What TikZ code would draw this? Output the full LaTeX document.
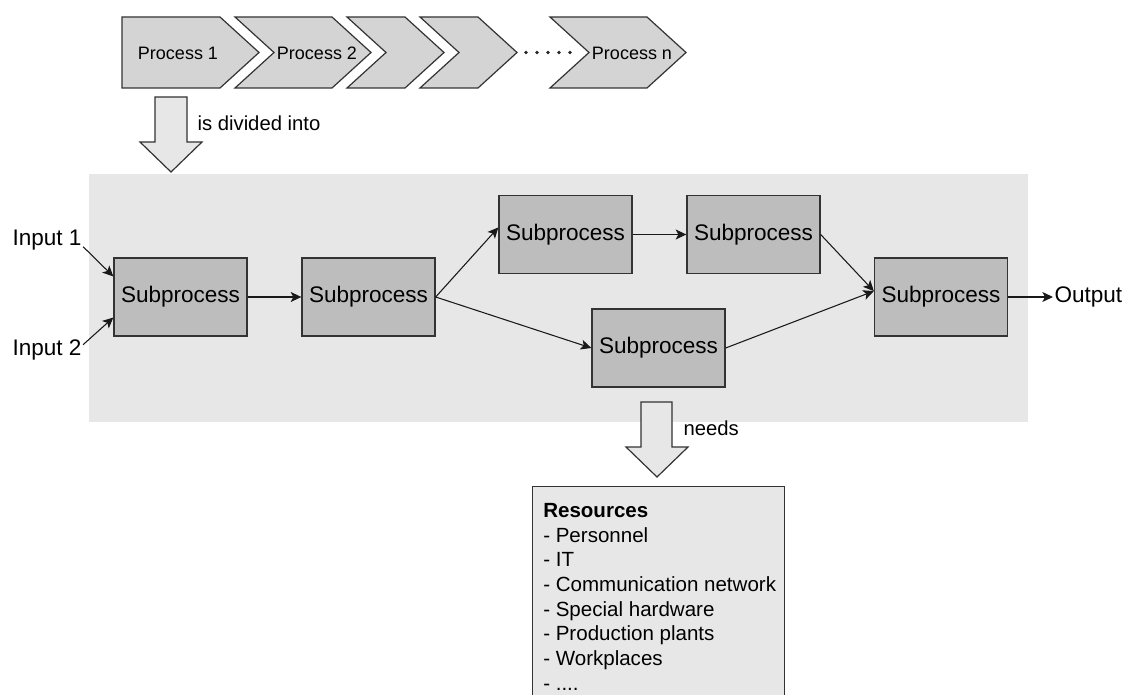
\documentclass[tikz,border=0pt]{standalone}
\usepackage{fontspec}
\setmainfont{Liberation Sans}
\usetikzlibrary{arrows.meta}

\definecolor{areagray}{gray}{0.905}
\definecolor{subgray}{gray}{0.74}
\definecolor{procgray}{gray}{0.83}
\definecolor{edgegray}{gray}{0.2}

\tikzset{
  subproc/.style={draw=edgegray, fill=subgray, line width=1pt, minimum width=99.75pt,
    minimum height=58.5pt, inner sep=0pt, font=\fontsize{16.9}{20}\selectfont},
  iotext/.style={inner sep=1pt, font=\fontsize{16.9}{20}\selectfont},
  proctext/.style={inner sep=0pt, font=\fontsize{13.5}{16}\selectfont},
  notetext/.style={inner sep=1pt, font=\fontsize{15.2}{18}\selectfont},
  flow/.style={draw=black!90, line width=0.8pt, -{Stealth[length=8pt,width=7.5pt,inset=2pt]}},
  hollowarrow/.style={draw=edgegray, fill=areagray, line width=0.9pt, line join=miter},
  chevron/.style={draw=edgegray, fill=procgray, line width=0.9pt},
  resbox/.style={draw=edgegray, fill=areagray, line width=1pt, minimum width=189pt,
    minimum height=180pt, inner sep=0pt},
  restext/.style={inner sep=0pt, align=left, font=\fontsize{15.4}{18.5}\selectfont}
}

\begin{document}
\begin{tikzpicture}[x=0.75pt,y=-0.75pt]
  \useasboundingbox (0,0) rectangle (1127,695);
  \clip (0,0) rectangle (1127,695);
  \fill[white] (0,0) rectangle (1127,695);

  % process chain
  \draw[chevron] (122,17) -- (220,17) -- (259,52.5) -- (220,88) -- (122,88) -- cycle;
  \foreach \l/\r in {235/332, 347/405, 420/478, 550/647}
    \draw[chevron] (\l,17) -- (\r,17) -- (\r+39,52.5) -- (\r,88) -- (\l,88) -- (\l+39,52.5) -- cycle;
  \foreach \x in {526,537,548,559,570}
    \fill[black!85] (\x,52.5) circle (1.4pt);
  \node[proctext] (p1) at (178,53) {Process 1};
  \node[proctext] (p2) at (317,53) {Process 2};
  \node[proctext] (pn) at (632,53) {Process n};

  % is divided into
  \draw[hollowarrow] (155,97) -- (187,97) -- (187,142) -- (202,142) -- (171,172)
    -- (140,142) -- (155,142) -- cycle;
  \node[notetext, anchor=west] (divided) at (196,123) {is divided into};

  % subprocesses
  \fill[areagray] (89,174) rectangle (1028,422);
  \node[subproc] (s1) at (180.5,297) {Subprocess};
  \node[subproc] (s2) at (368.5,297) {Subprocess};
  \node[subproc] (s3) at (565.5,234.5) {Subprocess};
  \node[subproc] (s4) at (753.5,234.5) {Subprocess};
  \node[subproc] (s5) at (658.5,348) {Subprocess};
  \node[subproc] (s6) at (941,297) {Subprocess};

  \node[iotext, anchor=west] (in1) at (11,240) {Input 1};
  \node[iotext, anchor=west] (in2) at (11,350) {Input 2};
  \node[iotext, anchor=west] (out) at (1053,297) {Output};

  \draw[flow] ([yshift=-5pt]in1.east) -- (s1.163);
  \draw[flow] ([yshift=4pt]in2.east) -- (s1.197);
  \draw[flow] (s1.east) -- (s2.west);
  \draw[flow] (s2.east) -- (s3.174);
  \draw[flow] (s2.east) -- (s5.west);
  \draw[flow] (s3.east) -- (s4.west);
  \draw[flow] (s4.east) -- (s6.175);
  \draw[flow] (s5.east) -- (s6.175);
  \draw[flow] (s6.east) -- (out.west);

  % needs
  \draw[hollowarrow] (641,402) -- (672,402) -- (672,447) -- (688,447) -- (657,477)
    -- (626,447) -- (641,447) -- cycle;
  \node[notetext, anchor=west] (needs) at (682,428) {needs};

  % resources
  \node[resbox, anchor=north west] (res) at (532,486) {};
  \node[restext, anchor=north west] (reslist) at (543,503) {\textbf{Resources}\\
    - Personnel\\
    - IT\\
    - Communication network\\
    - Special hardware\\
    - Production plants\\
    - Workplaces\\
    - ....};
\end{tikzpicture}
\end{document}
